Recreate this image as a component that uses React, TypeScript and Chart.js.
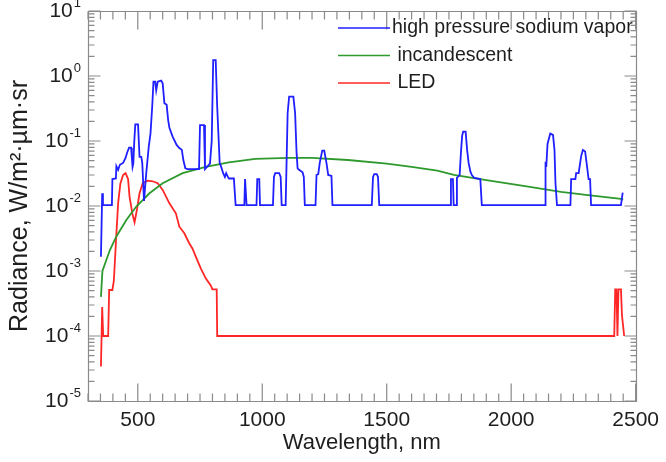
import React, { useEffect, useRef } from "react";
import { Chart, registerables } from "chart.js";

Chart.register(...registerables);

const hpsWavelength = [
  352, 357, 360, 396, 398, 412, 414, 421, 428, 441, 451, 457, 465, 473, 476, 479, 482, 486, 490, 501,
  507, 514, 518, 525, 534, 544, 551, 558, 563, 566, 570, 574, 580, 594, 600, 607, 616, 622, 627, 640,
  656, 667, 677, 683, 691, 700, 746, 750, 766, 770, 775, 790, 797, 803, 813, 819, 829, 835, 843, 850,
  855, 862, 866, 886, 893, 928, 931, 934, 937, 977, 980, 988, 991, 1043, 1047, 1052, 1068, 1074, 1078,
  1094, 1102, 1108, 1125, 1132, 1138, 1142, 1148, 1162, 1167, 1171, 1214, 1218, 1225, 1231, 1241,
  1249, 1258, 1265, 1278, 1282, 1440, 1445, 1450, 1460, 1465, 1470, 1755, 1758, 1766, 1769, 1780,
  1782, 1793, 1798, 1803, 1807, 1817, 1823, 1829, 1836, 1842, 1852, 1876, 1882, 2136, 2138, 2141,
  2146, 2157, 2168, 2174, 2178, 2184, 2238, 2241, 2258, 2261, 2271, 2281, 2288, 2297, 2303, 2311,
  2317, 2321, 2441, 2448,
];
const hpsRadiance = [
  0.00166, 0.0157, 0.0103, 0.0103, 0.026, 0.0265, 0.041, 0.036, 0.043, 0.046, 0.055, 0.066, 0.079,
  0.079, 0.057, 0.04, 0.045, 0.1, 0.18, 0.18, 0.057, 0.057, 0.046, 0.012, 0.032, 0.081, 0.13, 0.34,
  0.82, 0.82, 0.82, 0.6, 0.82, 0.85, 0.77, 0.38, 0.36, 0.21, 0.16, 0.117, 0.087, 0.078, 0.073,
  0.051, 0.038, 0.037, 0.037, 0.176, 0.176, 0.037, 0.039, 0.045, 0.1, 1.76, 1.76, 0.34, 0.046, 0.04,
  0.032, 0.028, 0.032, 0.028, 0.0265, 0.0265, 0.0103, 0.0103, 0.026, 0.026, 0.0103, 0.0103, 0.026,
  0.026, 0.0103, 0.0103, 0.028, 0.032, 0.032, 0.028, 0.0103, 0.0103, 0.27, 0.48, 0.48, 0.27, 0.065,
  0.038, 0.036, 0.033, 0.028, 0.0103, 0.0103, 0.03, 0.031, 0.046, 0.071, 0.071, 0.046, 0.03, 0.029,
  0.0103, 0.0103, 0.028, 0.031, 0.031, 0.028, 0.0103, 0.0103, 0.026, 0.026, 0.0103, 0.0103, 0.027,
  0.03, 0.065, 0.12, 0.139, 0.139, 0.073, 0.046, 0.034, 0.03, 0.027, 0.026, 0.0103, 0.0103, 0.048,
  0.04, 0.09, 0.13, 0.124, 0.073, 0.0224, 0.0103, 0.0103, 0.026, 0.026, 0.032, 0.032, 0.058, 0.073,
  0.069, 0.046, 0.026, 0.026, 0.0103, 0.0103, 0.016,
];

const incWavelength = [
  352, 358, 388, 414, 454, 494, 547, 600, 680, 773, 866, 972, 1105, 1200, 1344, 1500, 1600, 1703,
  1770, 1900, 2062, 2200, 2300, 2441, 2450,
];
const incRadiance = [
  0.0004, 0.001, 0.0021, 0.0034, 0.0061, 0.0098, 0.0157, 0.0224, 0.032, 0.04, 0.047, 0.053, 0.055,
  0.055, 0.051, 0.045, 0.04, 0.035, 0.03, 0.025, 0.02, 0.0165, 0.0148, 0.0129, 0.0125,
];

const ledWavelength = [
  352, 357, 361, 381, 385, 398, 404, 412, 421, 430, 441, 451, 461, 467, 478, 487, 497, 507, 520, 540,
  560, 580, 600, 627, 653, 667, 687, 706, 720, 733, 753, 773, 793, 800, 817, 819, 2414, 2418, 2423,
  2427, 2431, 2441, 2445, 2454,
];
const ledRadiance = [
  3.4e-5, 2.8e-4, 1.0e-4, 1.0e-4, 5.1e-4, 5.1e-4, 7.2e-4, 2.7e-3, 0.011, 0.022, 0.03, 0.032, 0.026,
  0.0138, 7.7e-3, 5.6e-3, 9.0e-3, 0.0157, 0.0224, 0.0246, 0.024, 0.0224, 0.0177, 0.011, 7.7e-3,
  4.8e-3, 3.8e-3, 2.7e-3, 2.2e-3, 1.66e-3, 1.1e-3, 7.7e-4, 6.0e-4, 5.2e-4, 5.2e-4, 1.0e-4, 1.0e-4,
  5.2e-4, 5.2e-4, 1.0e-4, 5.2e-4, 5.2e-4, 2.1e-4, 1.0e-4,
];

const seriesLabels = ["high pressure sodium vapor", " incandescent", " LED"];
const seriesColors = ["#1f1fff", "#2e9a2e", "#ff2626"];
const xTickValues = [500, 1000, 1500, 2000, 2500];
const xMinorStep = 50;
const yTickExponents = [1, 0, -1, -2, -3, -4, -5];
const xRange = [300, 2500];
const yRange = [1e-5, 10];

const FONT = "'Liberation Sans', Arial, Helvetica, sans-serif";
const AXIS_COLOR = "#8a8a8a";
const TEXT_COLOR = "#1e1e1e";

const toPoints = (xs: number[], ys: number[]) => xs.map((x, i) => ({ x, y: ys[i] }));

const framePlugin = {
  id: "frameTicks",
  afterDatasetsDraw(chart: any) {
    const ctx = chart.ctx;
    const xs = chart.scales.x;
    const ys = chart.scales.y;
    const area = chart.chartArea;
    const L = Math.round(area.left) + 0.5;
    const R = Math.round(area.right) + 0.5;
    const T = Math.round(area.top) + 0.5;
    const B = Math.round(area.bottom) + 0.5;
    ctx.save();
    ctx.strokeStyle = AXIS_COLOR;
    ctx.lineWidth = 1.2;
    ctx.beginPath();
    ctx.moveTo(L, T);
    ctx.lineTo(R, T);
    ctx.lineTo(R, B);
    ctx.lineTo(L, B);
    ctx.closePath();

    const nx = Math.round((xRange[1] - xRange[0]) / xMinorStep);
    for (let i = 0; i <= nx; i++) {
      const v = xRange[0] + i * xMinorStep;
      const px = xs.getPixelForValue(v);
      const len = xTickValues.indexOf(v) >= 0 ? 18 : 8;
      ctx.moveTo(px, B);
      ctx.lineTo(px, B - len);
      ctx.moveTo(px, T);
      ctx.lineTo(px, T + len);
    }
    for (let e = -5; e <= 1; e++) {
      for (let m = 1; m <= 9; m++) {
        if (e === 1 && m > 1) continue;
        const py = ys.getPixelForValue(m * Math.pow(10, e));
        const len = m === 1 ? 12 : 6;
        ctx.moveTo(L, py);
        ctx.lineTo(L + len, py);
        ctx.moveTo(R, py);
        ctx.lineTo(R - len, py);
      }
    }
    ctx.stroke();
    ctx.restore();
  },
  afterDraw(chart: any) {
    const ctx = chart.ctx;
    const ys = chart.scales.y;
    const area = chart.chartArea;
    ctx.save();
    ctx.fillStyle = TEXT_COLOR;
    ctx.textBaseline = "middle";
    const labelRight = area.left - 7;
    yTickExponents.forEach((e) => {
      const py = ys.getPixelForValue(Math.pow(10, e));
      const expText = e < 0 ? "-" + Math.abs(e) : String(e);
      ctx.font = `13px ${FONT}`;
      const ew = ctx.measureText(expText).width;
      ctx.textAlign = "left";
      ctx.fillText(expText, labelRight - ew, py - 8);
      ctx.font = `21px ${FONT}`;
      ctx.textAlign = "right";
      ctx.fillText("10", labelRight - ew - 1, py);
    });

    ctx.font = `19.5px ${FONT}`;
    ctx.textAlign = "left";
    ctx.textBaseline = "middle";
    chart.data.datasets.forEach((ds: any, i: number) => {
      const ly = 28 + i * 27.5;
      ctx.strokeStyle = ds.borderColor;
      ctx.lineWidth = 1.5;
      ctx.beginPath();
      ctx.moveTo(338, ly);
      ctx.lineTo(390, ly);
      ctx.stroke();
      ctx.fillStyle = TEXT_COLOR;
      ctx.fillText(ds.label, 392, ly);
    });
    ctx.restore();
  },
};

export default function App() {
  const ref = useRef<HTMLCanvasElement | null>(null);
  useEffect(() => {
    document.body.style.margin = "0";
    const canvas = ref.current;
    if (!canvas) return;
    const datasets = [
      toPoints(hpsWavelength, hpsRadiance),
      toPoints(incWavelength, incRadiance),
      toPoints(ledWavelength, ledRadiance),
    ].map((data, i) => ({
      label: seriesLabels[i],
      data,
      borderColor: seriesColors[i],
      backgroundColor: seriesColors[i],
      borderWidth: 1.8,
      pointRadius: 0,
      tension: 0,
      fill: false,
    }));
    const chart = new Chart(canvas, {
      type: "line",
      data: { datasets },
      options: {
        animation: false,
        responsive: false,
        devicePixelRatio: 1,
        layout: { padding: { top: 11, right: 26, left: 0, bottom: 0 } },
        plugins: { legend: { display: false }, tooltip: { enabled: false } },
        scales: {
          x: {
            type: "linear",
            min: xRange[0],
            max: xRange[1],
            grid: { display: false, drawTicks: false },
            border: { display: false },
            afterBuildTicks: (s: any) => {
              s.ticks = xTickValues.map((v) => ({ value: v }));
            },
            afterFit: (s: any) => {
              s.height = 61;
            },
            ticks: {
              font: { family: FONT, size: 21 },
              color: TEXT_COLOR,
              padding: 7,
              maxRotation: 0,
              autoSkip: false,
              callback: (v: any) => String(v),
            },
            title: {
              display: true,
              text: "Wavelength, nm",
              font: { family: FONT, size: 22 },
              color: TEXT_COLOR,
              padding: { top: 0, bottom: 6 },
            },
          },
          y: {
            type: "logarithmic",
            min: yRange[0],
            max: yRange[1],
            grid: { display: false, drawTicks: false },
            border: { display: false },
            ticks: { display: false },
            afterFit: (s: any) => {
              s.width = 88;
            },
            title: {
              display: true,
              text: "Radiance, W/m²·µm·sr",
              font: { family: FONT, size: 25 },
              color: TEXT_COLOR,
              padding: { top: 5, bottom: 0 },
            },
          },
        },
      },
      plugins: [framePlugin],
    } as any);
    return () => chart.destroy();
  }, []);
  return (
    <div style={{ width: 666, height: 462 }}>
      <canvas ref={ref} width={666} height={462} />
    </div>
  );
}
